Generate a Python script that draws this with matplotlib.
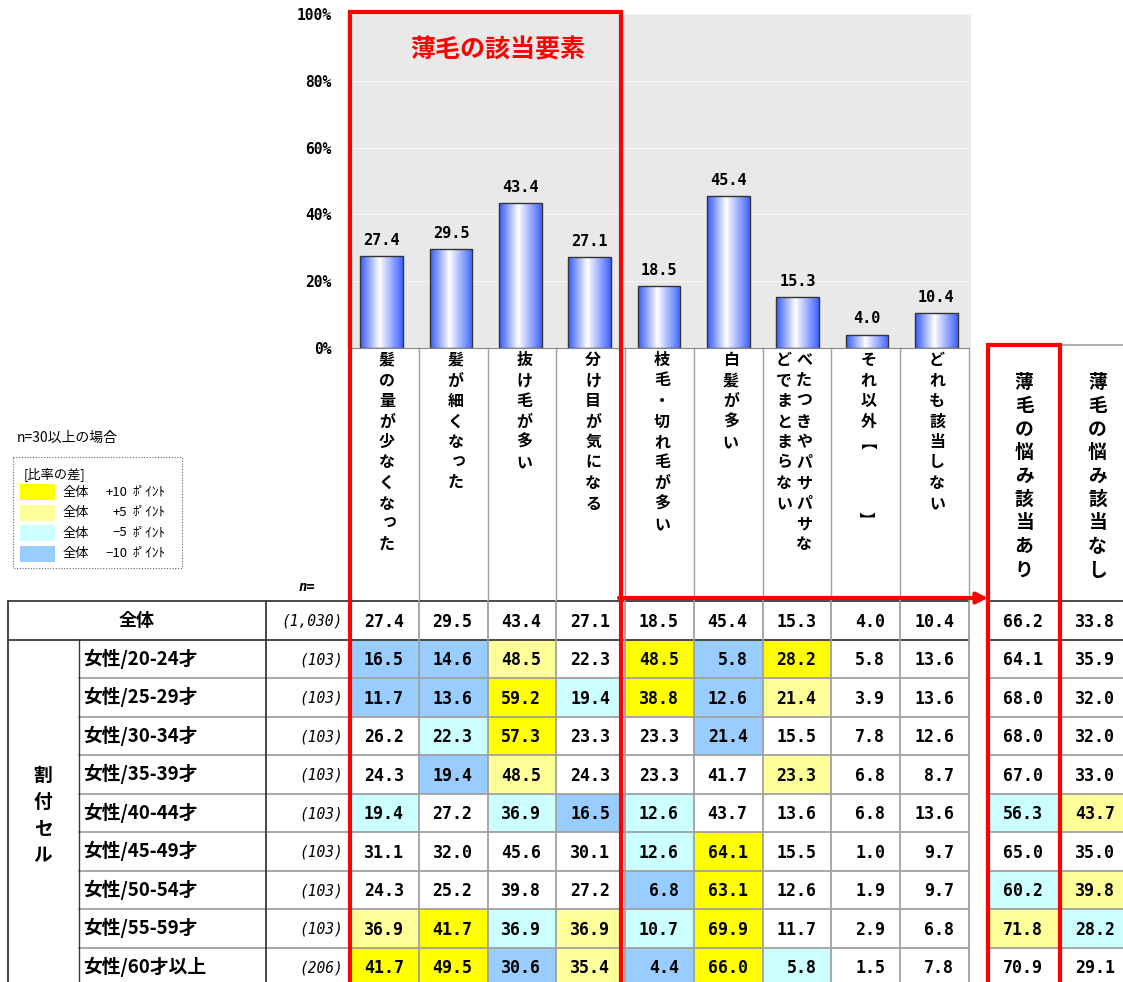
import numpy as np
import matplotlib
matplotlib.use("Agg")
import matplotlib.pyplot as plt
from matplotlib.patches import Rectangle
from matplotlib.colors import LinearSegmentedColormap

plt.rcParams['font.family'] = ['Noto Sans CJK JP', 'DejaVu Sans']

# ---- data -------------------------------------------------------------
items = ["髪の量が少なくなった", "髪が細くなった", "抜け毛が多い", "分け目が気になる",
         "枝毛・切れ毛が多い", "白髪が多い", "べたつきやパサパサなどでまとまらない",
         "それ以外【　　　】", "どれも該当しない"]
total = [27.4, 29.5, 43.4, 27.1, 18.5, 45.4, 15.3, 4.0, 10.4]
total_n = "(1,030)"
total_yes = 66.2
total_no = 33.8

groups = ["女性/20-24才", "女性/25-29才", "女性/30-34才", "女性/35-39才", "女性/40-44才",
          "女性/45-49才", "女性/50-54才", "女性/55-59才", "女性/60才以上"]
group_n = ["(103)", "(103)", "(103)", "(103)", "(103)", "(103)", "(103)", "(103)", "(206)"]
rows = [
    [16.5, 14.6, 48.5, 22.3, 48.5, 5.8, 28.2, 5.8, 13.6],
    [11.7, 13.6, 59.2, 19.4, 38.8, 12.6, 21.4, 3.9, 13.6],
    [26.2, 22.3, 57.3, 23.3, 23.3, 21.4, 15.5, 7.8, 12.6],
    [24.3, 19.4, 48.5, 24.3, 23.3, 41.7, 23.3, 6.8, 8.7],
    [19.4, 27.2, 36.9, 16.5, 12.6, 43.7, 13.6, 6.8, 13.6],
    [31.1, 32.0, 45.6, 30.1, 12.6, 64.1, 15.5, 1.0, 9.7],
    [24.3, 25.2, 39.8, 27.2, 6.8, 63.1, 12.6, 1.9, 9.7],
    [36.9, 41.7, 36.9, 36.9, 10.7, 69.9, 11.7, 2.9, 6.8],
    [41.7, 49.5, 30.6, 35.4, 4.4, 66.0, 5.8, 1.5, 7.8],
]
yes = [64.1, 68.0, 68.0, 67.0, 56.3, 65.0, 60.2, 71.8, 70.9]
no = [35.9, 32.0, 32.0, 33.0, 43.7, 35.0, 39.8, 28.2, 29.1]

legend_rows = [("+10", "#FFFF00"), ("+5", "#FFFF99"), ("−5", "#CCFFFF"), ("−10", "#99CCFF")]


def diff_color(v, base):
    d = v - base
    if d >= 10:
        return "#FFFF00"
    if d >= 5:
        return "#FFFF99"
    if d <= -10:
        return "#99CCFF"
    if d <= -5:
        return "#CCFFFF"
    return None


W, H = 1123, 982
fig = plt.figure(figsize=(W / 100, H / 100), dpi=100)


def fbox(x0, y0, x1, y1):
    return [x0 / W, 1 - y1 / H, (x1 - x0) / W, (y1 - y0) / H]


MONO = "DejaVu Sans Mono"

# ---- bar chart ----------------------------------------------------------
ax = fig.add_axes(fbox(347, 14, 971, 348))
ax.set_facecolor("#E9E9E9")
xs = np.arange(len(total))
bars = ax.bar(xs, total, width=0.62, color="none", edgecolor="#333333", lw=1.0, zorder=3)

cmap = LinearSegmentedColormap.from_list(
    "barfade", [(0.0, "#3358FF"), (0.45, "#FFFFFF"), (1.0, "#3D62FF")])
grad = np.linspace(0, 1, 256).reshape(1, -1)
for b in bars:
    x0, w, h = b.get_x(), b.get_width(), b.get_height()
    im = ax.imshow(grad, extent=(x0, x0 + w, 0, h), aspect="auto", cmap=cmap,
                   zorder=2, interpolation="bicubic")
    im.set_clip_path(b)

for x, v in zip(xs, total):
    ax.annotate(f"{v:.1f}", (x, v), xytext=(0, 6), textcoords="offset points",
                ha="center", va="bottom", fontsize=11, fontweight="bold", family=MONO)

ax.set_xlim(-0.5, 8.5)
ax.set_ylim(0, 100)
ax.set_yticks(range(0, 101, 20))
ax.set_yticklabels([f"{t}%" for t in range(0, 101, 20)], fontsize=10.5,
                   fontweight="bold", family=MONO)
ax.tick_params(axis="y", length=0, pad=11)
ax.set_xticks([])
ax.set_axisbelow(True)
ax.yaxis.grid(True, color="white", alpha=0.6, lw=0.8)
for s in ax.spines.values():
    s.set_visible(False)

# ---- table / annotations layer ----------------------------------------
tx = fig.add_axes([0, 0, 1, 1])
tx.set_xlim(0, W)
tx.set_ylim(H, 0)
tx.axis("off")

col_x = np.linspace(350, 969, 10)
col_c = (col_x[:-1] + col_x[1:]) / 2
row_y = 601 + 38.5 * np.arange(11)
row_c = (row_y[:-1] + row_y[1:]) / 2
side_x = [988, 1060, 1135]
side_c = [(side_x[0] + side_x[1]) / 2, (side_x[1] + side_x[2]) / 2]

DARK = "#3A3A3A"
GREY = "#A0A0A0"

# header cell separators under the bars
for x in col_x[1:]:
    tx.plot([x, x], [348, 601], color=GREY, lw=1, zorder=2)
tx.plot([350, 969], [348, 348], color="#888888", lw=0.8, zorder=2)
tx.plot([1060, W], [345, 345], color=GREY, lw=1.2, zorder=2)


# vertical item labels, one glyph at a time, lines running right to left
def vertical_text(cx, top, text, pitch, size, max_len=10, gap=20):
    lines = [text[i:i + max_len] for i in range(0, len(text), max_len)]
    n = len(lines)
    for k, line in enumerate(lines):
        lx = cx + (n - 1) * gap / 2 - k * gap
        for j, ch in enumerate(line):
            dx, dy, rot = 0, 0, 0
            if ch == "【":
                rot, dx, dy = -90, -12, 9
            if ch == "】":
                rot, dx, dy = -90, -4, -5
            if ch in "っゃゅょ":
                dx, dy = 3, -3
            tx.text(lx + dx, top + j * pitch + dy, ch, ha="center", va="center",
                    fontsize=size, fontweight="bold", rotation=rot, zorder=4)


for c, lab in zip(col_c, items):
    shift = 2.5 if len(lab) <= 10 else -3
    vertical_text(c + shift, 360, lab, 20.5, 11.5)
for c, lab in zip(side_c, ["薄毛の悩み該当あり", "薄毛の悩み該当なし"]):
    vertical_text(c, 382, lab, 23.5, 13.5)

tx.text(307, 587, "n=", ha="center", va="center", fontsize=10, fontweight="bold",
        style="italic", family=MONO)

# cell fills
all_rows = [total] + rows
all_yes = [total_yes] + yes
all_no = [total_no] + no
for i in range(1, len(all_rows)):
    for j, v in enumerate(all_rows[i]):
        fc = diff_color(v, total[j])
        if fc:
            tx.add_patch(Rectangle((col_x[j], row_y[i]), col_x[j + 1] - col_x[j],
                                   row_y[i + 1] - row_y[i], fc=fc, ec="none", zorder=1))
    for k, (v, base) in enumerate([(all_yes[i], total_yes), (all_no[i], total_no)]):
        fc = diff_color(v, base)
        if fc:
            tx.add_patch(Rectangle((side_x[k], row_y[i]), side_x[k + 1] - side_x[k],
                                   row_y[i + 1] - row_y[i], fc=fc, ec="none", zorder=1))

# grid lines
for y in row_y[2:10]:
    tx.plot([79, 969], [y, y], color=GREY, lw=1.3, zorder=2)
    tx.plot([988, W], [y, y], color=GREY, lw=1.3, zorder=2)
for y in row_y[:2]:
    tx.plot([8, 969], [y, y], color=DARK, lw=1.3, zorder=2)
    tx.plot([988, W], [y, y], color=DARK, lw=1.3, zorder=2)
for x in col_x[1:]:
    tx.plot([x, x], [601, H], color=GREY, lw=1.3, zorder=2)
tx.plot([8, 8], [601, H], color=DARK, lw=1.3, zorder=2)
tx.plot([79, 79], [row_y[1], H], color=DARK, lw=1.0, zorder=2)
tx.plot([266, 266], [601, H], color=DARK, lw=1.3, zorder=2)

# row text
tx.text(137, row_c[0], "全体", ha="center", va="center", fontsize=13,
        fontweight="bold", zorder=4)
for j, ch in enumerate("割付セル"):
    tx.text(43, 775 + j * 27, ch, ha="center", va="center", fontsize=13.5,
            fontweight="bold", zorder=4)
for i, g in enumerate(groups):
    tx.text(83, row_c[i + 1], g, ha="left", va="center", fontsize=13.5,
            fontweight="bold", zorder=4)
for i, nn in enumerate([total_n] + group_n):
    tx.text(343, row_c[i] + 1, nn, ha="right", va="center", fontsize=10.5,
            style="italic", family=MONO, zorder=4)

for i, r in enumerate(all_rows):
    for j, v in enumerate(r):
        tx.text(col_x[j + 1] - 15, row_c[i] + 1.5, f"{v:.1f}", ha="right", va="center",
                fontsize=12, fontweight="bold", family=MONO, zorder=4)
    for k, v in enumerate([all_yes[i], all_no[i]]):
        tx.text(side_x[k + 1] - (17 if k == 0 else 20), row_c[i] + 1.5, f"{v:.1f}",
                ha="right", va="center", fontsize=12, fontweight="bold",
                family=MONO, zorder=4)

# red frames and arrow
RED = "#FF0000"
tx.plot([350, 350, 621, 621], [H + 10, 12, 12, H + 10], color=RED, lw=3,
        solid_joinstyle="miter", zorder=6, clip_on=False)
tx.plot([988, 988, 1060, 1060], [H + 10, 345, 345, H + 10], color=RED, lw=3,
        solid_joinstyle="miter", zorder=6, clip_on=False)
tx.annotate("", xy=(988, 598), xytext=(619, 598),
            arrowprops=dict(arrowstyle="-|>", color=RED, lw=3, mutation_scale=16,
                            shrinkA=0, shrinkB=0), zorder=6)
tx.text(498, 50, "薄毛の該当要素", ha="center", va="center", color=RED,
        fontsize=18, fontweight="bold", zorder=6)

# legend for the colour coding
tx.text(17, 438, "n=30以上の場合", ha="left", va="center", fontsize=10)
tx.add_patch(Rectangle((13, 457), 169, 111, fc="none", ec="#666666", lw=0.8,
                       ls=(0, (1, 1.5))))
tx.text(24, 474, "[比率の差]", ha="left", va="center", fontsize=9.5)
for k, (lab, fc) in enumerate(legend_rows):
    y = 492 + k * 20.5
    tx.add_patch(Rectangle((20, y - 8), 35, 16, fc=fc, ec="none"))
    tx.text(63, y, "全体", ha="left", va="center", fontsize=9.5)
    tx.text(127, y, lab, ha="right", va="center", fontsize=9.5)
    tx.text(133, y, "ﾎﾟｲﾝﾄ", ha="left", va="center", fontsize=9.5)

fig.savefig("out.png", dpi=100)
